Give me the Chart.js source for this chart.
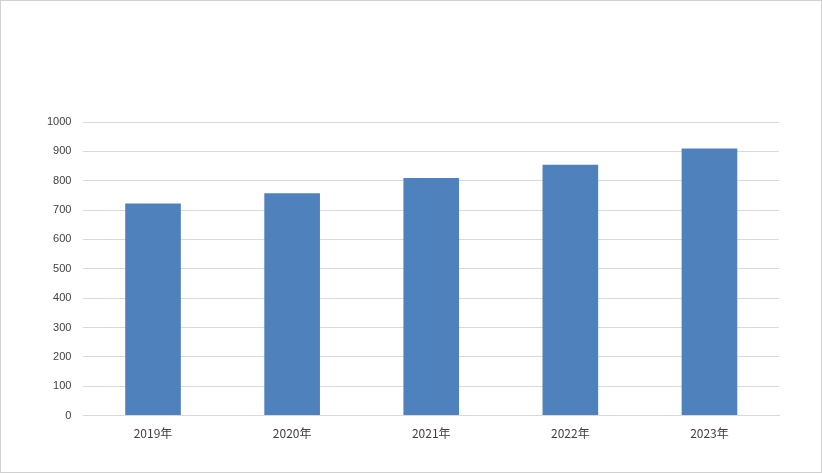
<!DOCTYPE html>
<html>
<head>
<meta charset="utf-8">
<script src="https://cdn.jsdelivr.net/npm/chart.js@4"></script>
<style>
  body { margin: 0; background: #fff; }
  #wrap { width: 820px; height: 471px; border: 1px solid #d0d0d0; }
</style>
</head>
<body>
<div id="wrap"><canvas id="myChart" width="820" height="471"></canvas></div>
<script>
const years = ['2019年', '2020年', '2021年', '2022年', '2023年'];
const values = [722, 757, 809, 854, 910];
const titleText = '2019-2023年';

// title sits left of center in the original, so draw it by hand
const titlePlugin = {
  id: 'leftTitle',
  afterDraw(chart) {
    const c = chart.ctx;
    c.save();
    c.fillStyle = '#404040';
    c.font = '18px "Noto Sans CJK SC"';
    c.textBaseline = 'middle';
    c.fillText(titleText, 202, 22);
    c.restore();
  }
};

const ctx = document.getElementById('myChart').getContext('2d');
new Chart(ctx, {
  type: 'bar',
  data: {
    labels: years,
    datasets: [{
      data: values,
      backgroundColor: '#4f81bd',
      categoryPercentage: 1,
      barPercentage: 0.4
    }]
  },
  options: {
    responsive: false,
    animation: false,
    layout: { padding: { left: 34, right: 42, top: 121, bottom: 28 } },
    plugins: {
      legend: { display: false },
      tooltip: { enabled: false },
      title: { display: false }
    },
    scales: {
      x: {
        grid: { display: false },
        border: { color: '#d9d9d9' },
        ticks: { color: '#404040', font: { family: 'Noto Sans CJK SC', size: 12 } }
      },
      y: {
        min: 0, max: 1000,
        ticks: { stepSize: 100, color: '#404040', padding: 12, font: { family: 'Liberation Sans', size: 11 },
          callback: v => String(v) },
        grid: { color: '#d9d9d9', drawTicks: false },
        border: { display: false }
      }
    }
  }
});
</script>
</body>
</html>
